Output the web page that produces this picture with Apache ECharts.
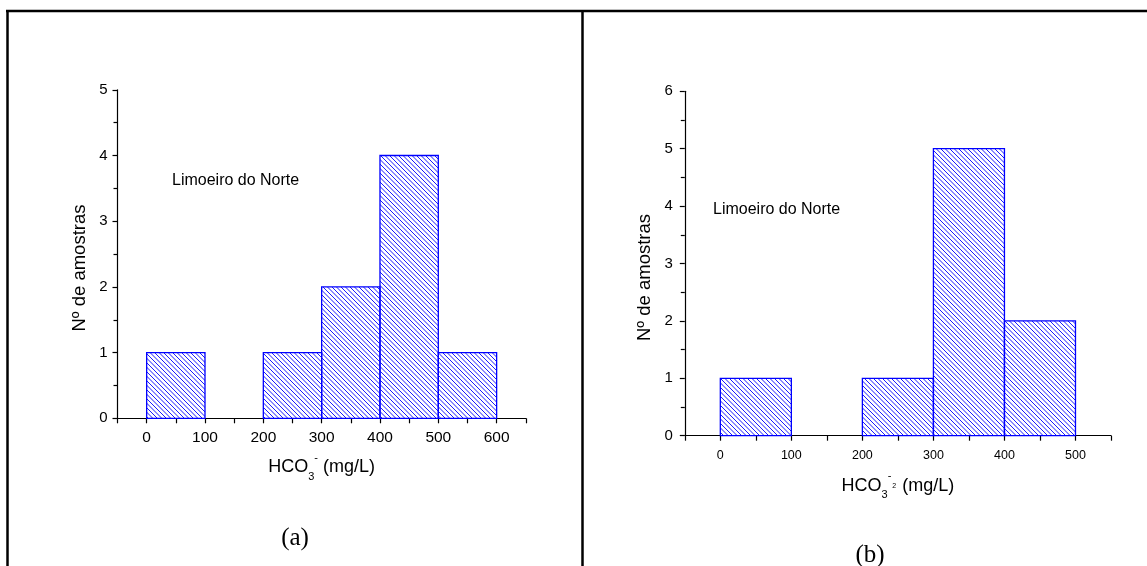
<!DOCTYPE html>
<html>
<head>
<meta charset="utf-8">
<script src="https://cdn.jsdelivr.net/npm/echarts@6/dist/echarts.min.js"></script>
<style>
html,body{margin:0;padding:0;background:#fff;}
#c{width:1147px;height:566px;}
</style>
</head>
<body>
<div id="c"></div>
<script>
// ---- data ----
// Panel (a): bins [start, end] and counts
const binStartA = [0, 200, 300, 400, 500];
const binEndA   = [100, 300, 400, 500, 600];
const countsA   = [1, 1, 2, 4, 1];
// Panel (b)
const binStartB = [0, 200, 300, 400];
const binEndB   = [100, 300, 400, 500];
const countsB   = [1, 1, 5, 2];

const xTicksA = [0, 100, 200, 300, 400, 500, 600];
const xTicksB = [0, 100, 200, 300, 400, 500];
const siteLabel = 'Limoeiro do Norte';
const yName = 'Nº de amostras';
const panelA = '(a)';
const panelB = '(b)';

// ---- hatch pattern ----
function makeHatch() {
  const s = 9;
  const cv = document.createElement('canvas');
  cv.width = s; cv.height = s;
  const ctx = cv.getContext('2d');
  ctx.strokeStyle = '#1a1aff';
  ctx.lineWidth = 1;
  [-9, -4.5, 0, 4.5, 9].forEach(off => {
    ctx.beginPath();
    ctx.moveTo(off - 1, -1);
    ctx.lineTo(off + s + 1, s + 1);
    ctx.stroke();
  });
  return cv;
}
const hatch = makeHatch();

function toData(st, en, ct) { return st.map((v, i) => [v, en[i], ct[i]]); }

function renderBar(params, api) {
  const p0 = api.coord([api.value(0), api.value(2)]);
  const p1 = api.coord([api.value(1), 0]);
  return {
    type: 'rect',
    shape: { x: p0[0], y: p0[1], width: p1[0] - p0[0], height: p1[1] - p0[1] },
    style: { fill: { image: hatch, repeat: 'repeat' }, stroke: '#0000ff', lineWidth: 1.3 }
  };
}

const FONT = 'Liberation Sans, Arial, sans-serif';

function xAxisCfg(gridIndex, max, ticks, fontSize, nameRich, gap, labelMargin) {
  return {
    type: 'value', gridIndex, min: -50, max, interval: 50,
    axisLine: { show: true, onZero: false, lineStyle: { color: '#000', width: 1.2 } },
    axisTick: { show: true, length: 5, lineStyle: { color: '#000', width: 1.2 } },
    splitLine: { show: false },
    axisLabel: {
      show: true, margin: labelMargin, color: '#000', fontFamily: FONT, fontSize,
      formatter: v => ticks.indexOf(v) >= 0 ? String(v) : ''
    },
    name: nameRich, nameLocation: 'middle', nameGap: gap,
    nameTextStyle: {
      color: '#000', fontFamily: FONT, fontSize: 18,
      rich: {
        m: { fontFamily: FONT, fontSize: 18, color: '#000' },
        sub: { fontFamily: FONT, fontSize: 11, color: '#000', verticalAlign: 'bottom', padding: [0, 0, -6, 0] },
        sup: { fontFamily: FONT, fontSize: 11, color: '#000', verticalAlign: 'top', padding: [-6, 0, 0, 0] },
        tiny: { fontFamily: FONT, fontSize: 7, color: '#000', verticalAlign: 'middle', padding: [0, 1, 0, 1] }
      }
    }
  };
}

function yAxisCfg(gridIndex, max, fontSize, gap, labelMargin, pad) {
  return {
    type: 'value', gridIndex, min: 0, max, interval: 1,
    axisLine: { show: true, onZero: false, lineStyle: { color: '#000', width: 1.2 } },
    axisTick: { show: true, length: 5, lineStyle: { color: '#000', width: 1.2 } },
    minorTick: { show: true, splitNumber: 2, length: 4, lineStyle: { color: '#000', width: 1.2 } },
    splitLine: { show: false },
    axisLabel: { margin: labelMargin, color: '#000', fontFamily: FONT, fontSize },
    name: yName, nameLocation: 'middle', nameGap: gap,
    nameTextStyle: { color: '#000', fontFamily: FONT, fontSize: 18.5, padding: [0, pad, 0, 0] }
  };
}

const chart = echarts.init(document.getElementById('c'), null, { renderer: 'canvas' });
chart.setOption({
  backgroundColor: '#fff',
  animation: false,
  grid: [
    { left: 117.5, top: 89.8, width: 408.3, height: 328.5, containLabel: false },
    { left: 684.8, top: 91.3, width: 426.2, height: 344.4, containLabel: false }
  ],
  xAxis: [
    xAxisCfg(0, 650, xTicksA, 15.5, '{m|HCO}{sub|3}{sup|-}{m| (mg/L)}', 40, 11),
    xAxisCfg(1, 550, xTicksB, 12.5, '{m|HCO}{sub|3}{sup|-}{tiny|2}{m| (mg/L)}', 41, 13)
  ],
  yAxis: [
    yAxisCfg(0, 5, 15, 28, 10, 28),
    yAxisCfg(1, 6, 15, 30, 12, 28)
  ],
  series: [
    { type: 'custom', xAxisIndex: 0, yAxisIndex: 0, renderItem: renderBar, data: toData(binStartA, binEndA, countsA), encode: { x: [0, 1], y: 2 } },
    { type: 'custom', xAxisIndex: 1, yAxisIndex: 1, renderItem: renderBar, data: toData(binStartB, binEndB, countsB), encode: { x: [0, 1], y: 2 } }
  ],
  graphic: [
    { type: 'line', shape: { x1: 6, y1: 11, x2: 1147, y2: 11 }, style: { stroke: '#000', lineWidth: 2.5 } },
    { type: 'line', shape: { x1: 7.5, y1: 10, x2: 7.5, y2: 566 }, style: { stroke: '#000', lineWidth: 2.5 } },
    { type: 'line', shape: { x1: 582.5, y1: 10, x2: 582.5, y2: 566 }, style: { stroke: '#000', lineWidth: 2.5 } },
    { type: 'text', left: 172, top: 173, style: { text: siteLabel, fill: '#000', font: '16px ' + FONT } },
    { type: 'text', left: 713, top: 202, style: { text: siteLabel, fill: '#000', font: '16px ' + FONT } },
    { type: 'text', x: 295, y: 538, style: { text: panelA, fill: '#000', font: '25px "Liberation Serif", "Times New Roman", serif', align: 'center', verticalAlign: 'middle' } },
    { type: 'text', x: 870, y: 555, style: { text: panelB, fill: '#000', font: '25px "Liberation Serif", "Times New Roman", serif', align: 'center', verticalAlign: 'middle' } }
  ]
});
</script>
</body>
</html>
